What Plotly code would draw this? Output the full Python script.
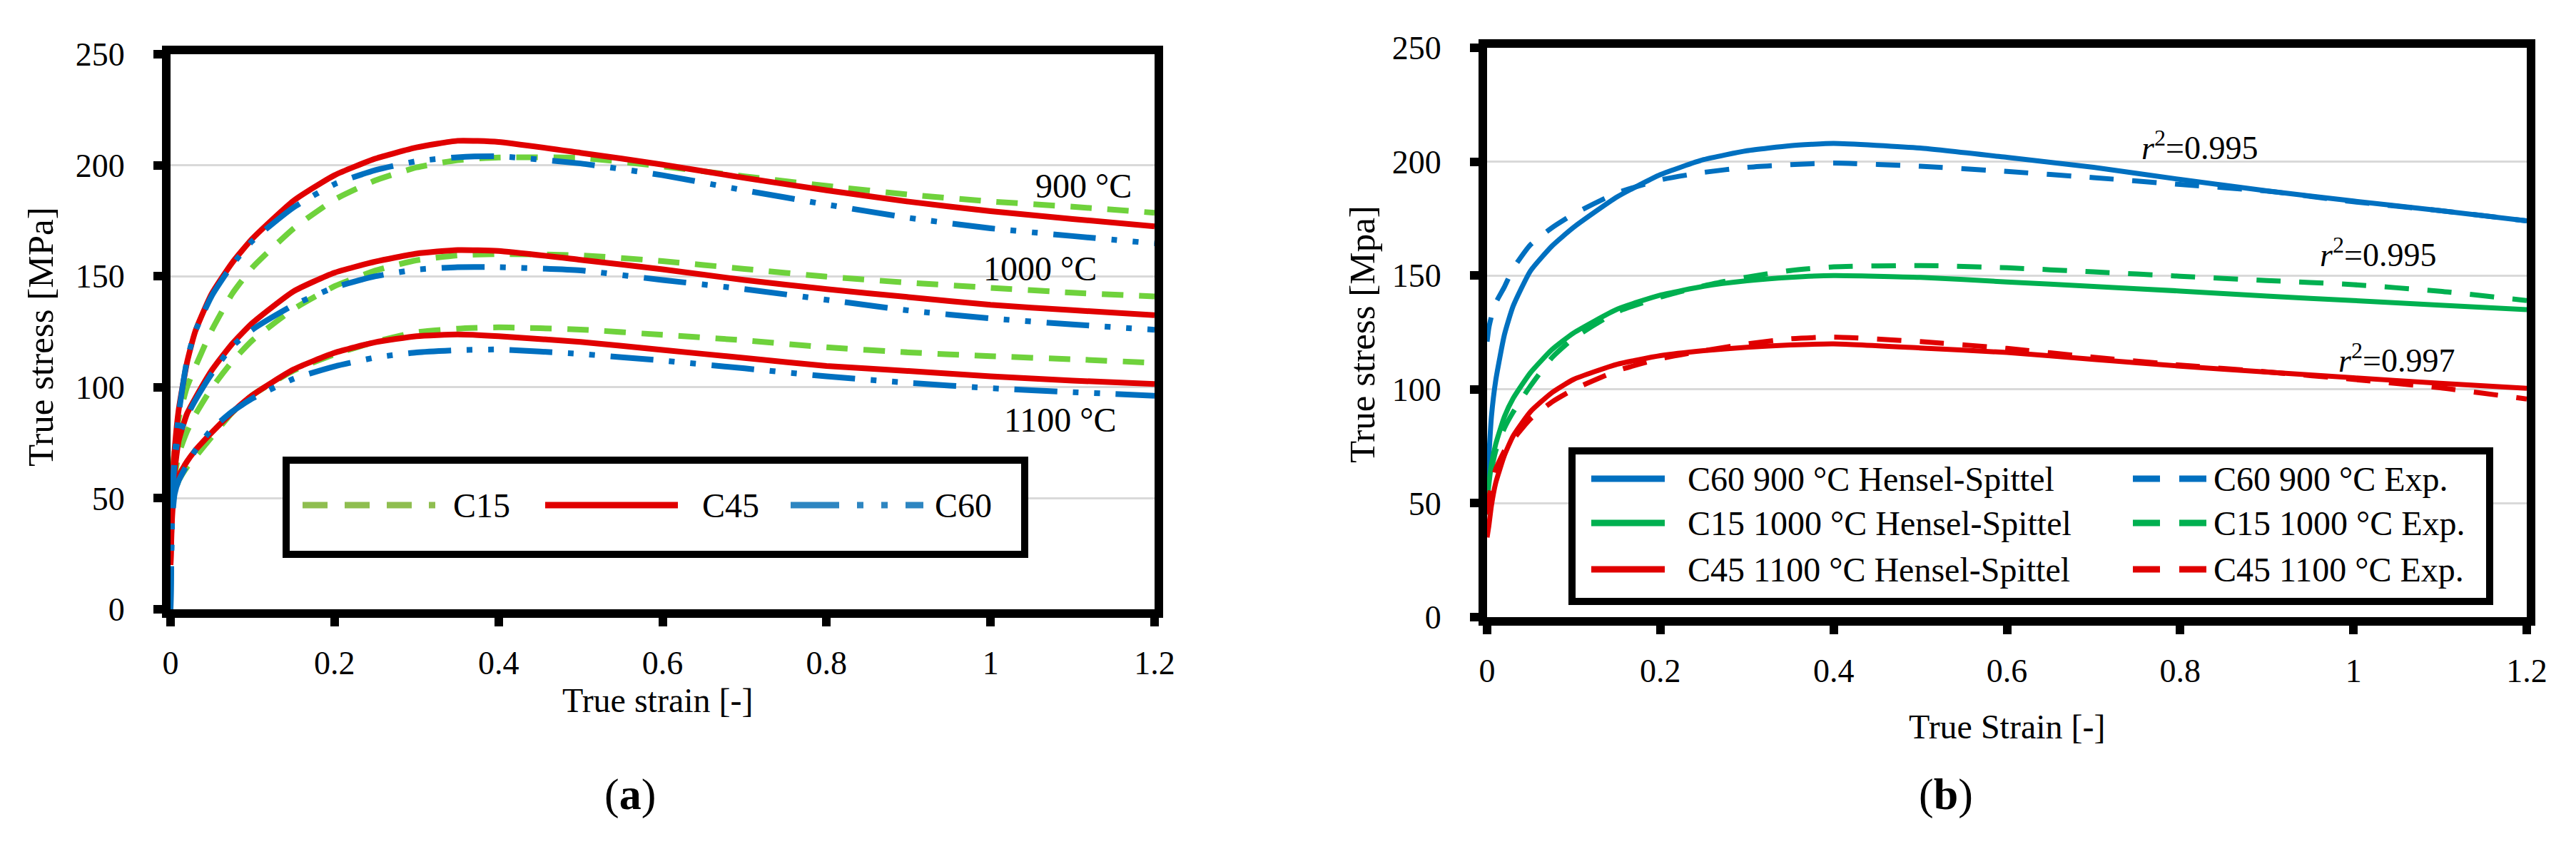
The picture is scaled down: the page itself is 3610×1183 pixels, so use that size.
import plotly.graph_objects as go

# ---------------- data: panel (a) ----------------
strain_a = [0, 0.002, 0.005, 0.01, 0.02, 0.03, 0.05, 0.075, 0.1, 0.15, 0.2, 0.25,
            0.3, 0.35, 0.4, 0.5, 0.6, 0.7, 0.8, 0.9, 1.0, 1.1, 1.2]

c15_900 = [45, 60, 72, 86, 100, 109, 125.5, 142, 154, 171.5, 184.5, 193.2,
           199, 202.3, 203.5, 203.3, 199.5, 195, 190.7, 186.8, 183.7, 181.3, 178.6]
c45_900 = [20, 55, 72, 90, 111, 125, 142, 156, 167, 184, 195.5, 203,
           208, 211, 210.5, 205.6, 200.3, 194.3, 188.7, 183.6, 179.3, 175.8, 172.5]
c60_900 = [0, 45, 68, 88, 112, 125, 141, 155, 166, 181, 191.5, 197.8,
           201.8, 203.6, 204, 200.8, 195.5, 188.7, 182.3, 176.3, 171.6, 168.1, 164.8]

c15_1000 = [40, 52, 60, 70, 80, 87.5, 99.5, 111.5, 121.2, 135.2, 145.5, 152.6,
            157.2, 159.4, 160, 159.4, 156.8, 153.3, 149.8, 147.1, 144.8, 142.6, 140.9]
c45_1000 = [20, 48, 62, 76, 88, 95, 107.5, 119.5, 129, 143.2, 151.6, 156.6,
            160.2, 161.8, 161.4, 157.4, 153.1, 148.3, 144.2, 140.6, 137.1, 134.7, 132.5]
c60_1000 = [0, 50, 68, 78, 87, 94, 106, 118.3, 126, 137, 145, 150,
            153, 154.1, 154.1, 152.6, 148.3, 144.2, 139.4, 134.6, 131, 128.3, 125.9]

c15_1100 = [40, 48, 53, 58, 64, 68.5, 77.5, 88.5, 96.5, 107.5, 114.8, 120.5,
            124.8, 126.4, 127, 126, 123.6, 121.1, 118, 115.7, 114, 112.6, 111]
c45_1100 = [20, 42, 55, 60, 66.5, 71.5, 79.5, 88.7, 96.5, 108, 115.5, 120.3,
            123, 123.8, 123, 120.4, 116.8, 113.2, 109.6, 107.3, 104.9, 103, 101.5]
c60_1100 = [0, 40, 52, 58, 65, 71.5, 81, 89, 95, 103.8, 109.4, 113.4,
            115.7, 116.7, 117, 115, 112, 108.5, 104.9, 102, 99.6, 97.8, 96.2]

temps_a = ["900 °C", "1000 °C", "1100 °C"]
temp_label_x = [1.113, 1.06, 1.085]
temp_label_y = [190.8, 153.5, 85.4]

# ---------------- data: panel (b) ----------------
strain_b = [0, 0.002, 0.005, 0.01, 0.02, 0.03, 0.05, 0.075, 0.1, 0.15, 0.2, 0.25,
            0.3, 0.35, 0.4, 0.5, 0.6, 0.7, 0.8, 0.9, 1.0, 1.1, 1.2]

c60_900_hs = [55, 70, 88, 104, 124, 136.5, 152, 163, 171.2, 184.5, 194.3, 200.9,
              204.8, 207, 208, 206, 201.9, 197.5, 192.2, 187.2, 182.7, 178.5, 174]
c60_900_exp = [121, 127, 132, 138, 145, 153, 163.5, 171, 177, 186.3, 192, 195.3,
               197.5, 198.7, 199.4, 198, 195.7, 193, 190, 187.1, 182.4, 178.5, 174]
c15_1000_hs = [50, 58, 67, 76, 88, 96, 107.3, 117.5, 124.8, 135.2, 141.4, 145.3,
               147.7, 149.2, 150, 149.2, 147.2, 145.2, 143.2, 141, 139, 137, 135]
c15_1000_exp = [45, 55, 64, 73, 83, 90, 101.5, 114, 122.5, 134, 140.5, 145.5,
                149.3, 152.2, 153.8, 154.4, 153.4, 151.6, 149.7, 147.8, 146, 143.1, 139]
c45_1100_hs = [35, 40, 49, 59, 71, 79.5, 90.2, 98.6, 104.4, 111, 114.8, 117,
               118.5, 119.5, 120, 118.2, 116.2, 113.2, 110.2, 107.6, 105.1, 102.7, 100.5]
c45_1100_exp = [45, 52, 58, 65, 73, 78, 87, 94.5, 100, 108.2, 113.5, 117,
                120, 122.2, 123, 121, 118, 114.1, 110.7, 107.7, 104.4, 100.7, 95.8]

r2_text = ["0.995", "0.995", "0.997"]
r2_x = [0.822, 1.028, 1.05]
r2_y = [207.1, 160.2, 113.6]

# ---------------- styles / layout helpers ----------------
FONT = "Liberation Serif, Times New Roman, serif"
GREEN_A = "#6fd23c"
BLUE = "#0070c0"
RED = "#e00000"
GREEN_B = "#00b050"
LEG_GREEN = "#8fbe50"
LEG_BLUE = "#2e86c1"

DASH_C15 = "30px,22px"
DASH_C60 = "60px,22px,8px,22px,8px,22px"
DASH_EXP = "34px,26px"

W, H = 3610, 1183
OFF = 8  # page body offset of the plot div


def px(x):
    return (x - OFF) / W


def py(y):
    return 1 - (y - OFF) / H


fig = go.Figure()


def add(x, y, name, color, dash, width, xa, ya):
    fig.add_trace(go.Scatter(
        x=x, y=y, name=name, mode="lines", showlegend=False,
        line=dict(color=color, dash=dash, width=width, shape="spline", smoothing=0.5),
        xaxis=xa, yaxis=ya))


for series in (c15_900, c15_1000, c15_1100):
    add(strain_a, series, "C15", GREEN_A, DASH_C15, 8, "x", "y")
for series in (c45_900, c45_1000, c45_1100):
    add(strain_a, series, "C45", RED, "solid", 8, "x", "y")
for series in (c60_900, c60_1000, c60_1100):
    add(strain_a, series, "C60", BLUE, DASH_C60, 8, "x", "y")

add(strain_b, c60_900_hs, "C60 900 °C Hensel-Spittel", BLUE, "solid", 7, "x2", "y2")
add(strain_b, c15_1000_hs, "C15 1000 °C Hensel-Spittel", GREEN_B, "solid", 7, "x2", "y2")
add(strain_b, c45_1100_hs, "C45 1100 °C Hensel-Spittel", RED, "solid", 7, "x2", "y2")
add(strain_b, c60_900_exp, "C60 900 °C Exp.", BLUE, DASH_EXP, 7, "x2", "y2")
add(strain_b, c15_1000_exp, "C15 1000 °C Exp.", GREEN_B, DASH_EXP, 7, "x2", "y2")
add(strain_b, c45_1100_exp, "C45 1100 °C Exp.", RED, DASH_EXP, 7, "x2", "y2")

axis_common = dict(
    showline=True, linewidth=12, linecolor="black", mirror=True,
    ticks="outside", ticklen=12, tickwidth=12, tickcolor="black",
    zeroline=False, tickfont=dict(family=FONT, size=46, color="black"),
    automargin=False,
)
xcommon = dict(axis_common, range=[0, 1.2], tick0=0, dtick=0.2, showgrid=False,
               ticklabelstandoff=12)
ycommon = dict(axis_common, range=[0, 250], tick0=0, dtick=50, showgrid=True,
               gridcolor="#d9d9d9", gridwidth=3, ticklabelstandoff=31)

fig.update_layout(
    width=W, height=H, autosize=False,
    margin=dict(l=0, r=0, t=0, b=0, pad=0, autoexpand=False),
    paper_bgcolor="white", plot_bgcolor="white",
    font=dict(family=FONT, size=46, color="black"),
    xaxis=dict(xcommon, domain=[px(239), px(1618)], anchor="y"),
    yaxis=dict(ycommon, domain=[py(854), py(76)], anchor="x"),
    xaxis2=dict(xcommon, domain=[px(2084), px(3541)], anchor="y2"),
    yaxis2=dict(ycommon, domain=[py(865), py(67)], anchor="x2"),
)


def note(text, x, y, size, xref="paper", yref="paper", xanchor="center", angle=0):
    return dict(text=text, x=x, y=y, xref=xref, yref=yref, xanchor=xanchor,
                yanchor="middle", showarrow=False, textangle=angle,
                font=dict(family=FONT, size=size, color="black"))


ann = []
# axis titles and panel labels
ann.append(note("True strain [-]", px(922), py(981), 48))
ann.append(note("True stress [MPa]", px(57), py(472), 51, angle=-90))
ann.append(note("True Strain [-]", px(2813), py(1018), 48))
ann.append(note("True stress [Mpa]", px(1909), py(469), 51, angle=-90))
ann.append(note("(<b>a</b>)", px(883), py(1113), 62))
ann.append(note("(<b>b</b>)", px(2727), py(1113), 62))

for t, xx, yy in zip(temps_a, temp_label_x, temp_label_y):
    ann.append(note(t, xx, yy, 48, xref="x", yref="y"))
for t, xx, yy in zip(r2_text, r2_x, r2_y):
    ann.append(note("<i>r</i><sup>2</sup>=" + t, xx, yy, 46, xref="x2", yref="y2"))

shapes = []
# legend (a)
shapes.append(dict(type="rect", xref="paper", yref="paper", x0=px(401), x1=px(1436),
                   y0=py(777), y1=py(645), line=dict(color="black", width=10),
                   fillcolor="white", layer="above"))
leg_a_y = py(708)
leg_a_items = [("C15", LEG_GREEN, "35px,24px", 424, 610, 633),
               ("C45", RED, "solid", 764, 950, 982),
               ("C60", LEG_BLUE, "68px,25px,9px,25px,9px,25px", 1108, 1294, 1308)]
for name, col, dash, lx0, lx1, tx in leg_a_items:
    shapes.append(dict(type="line", xref="paper", yref="paper", x0=px(lx0), x1=px(lx1),
                       y0=leg_a_y, y1=leg_a_y, line=dict(color=col, width=9, dash=dash),
                       layer="above"))
    ann.append(note(name, px(tx), leg_a_y, 48, xanchor="left"))

# legend (b)
shapes.append(dict(type="rect", xref="paper", yref="paper", x0=px(2203), x1=px(3489),
                   y0=py(843), y1=py(632), line=dict(color="black", width=10),
                   fillcolor="white", layer="above"))
leg_b_rows = [671, 733, 798]
leg_b_items = [("C60 900 °C Hensel-Spittel", "C60 900 °C Exp.", BLUE),
               ("C15 1000 °C Hensel-Spittel", "C15 1000 °C Exp.", GREEN_B),
               ("C45 1100 °C Hensel-Spittel", "C45 1100 °C Exp.", RED)]
for ry_px, (n1, n2, col) in zip(leg_b_rows, leg_b_items):
    ry = py(ry_px)
    shapes.append(dict(type="line", xref="paper", yref="paper", x0=px(2230), x1=px(2333),
                       y0=ry, y1=ry, line=dict(color=col, width=9), layer="above"))
    shapes.append(dict(type="line", xref="paper", yref="paper", x0=px(2989), x1=px(3093),
                       y0=ry, y1=ry, line=dict(color=col, width=9, dash="38px,27px"),
                       layer="above"))
    ann.append(note(n1, px(2363), ry, 48, xanchor="left"))
    ann.append(note(n2, px(3100), ry, 48, xanchor="left"))

fig.update_layout(annotations=ann, shapes=shapes)

fig.write_html("out.html")
